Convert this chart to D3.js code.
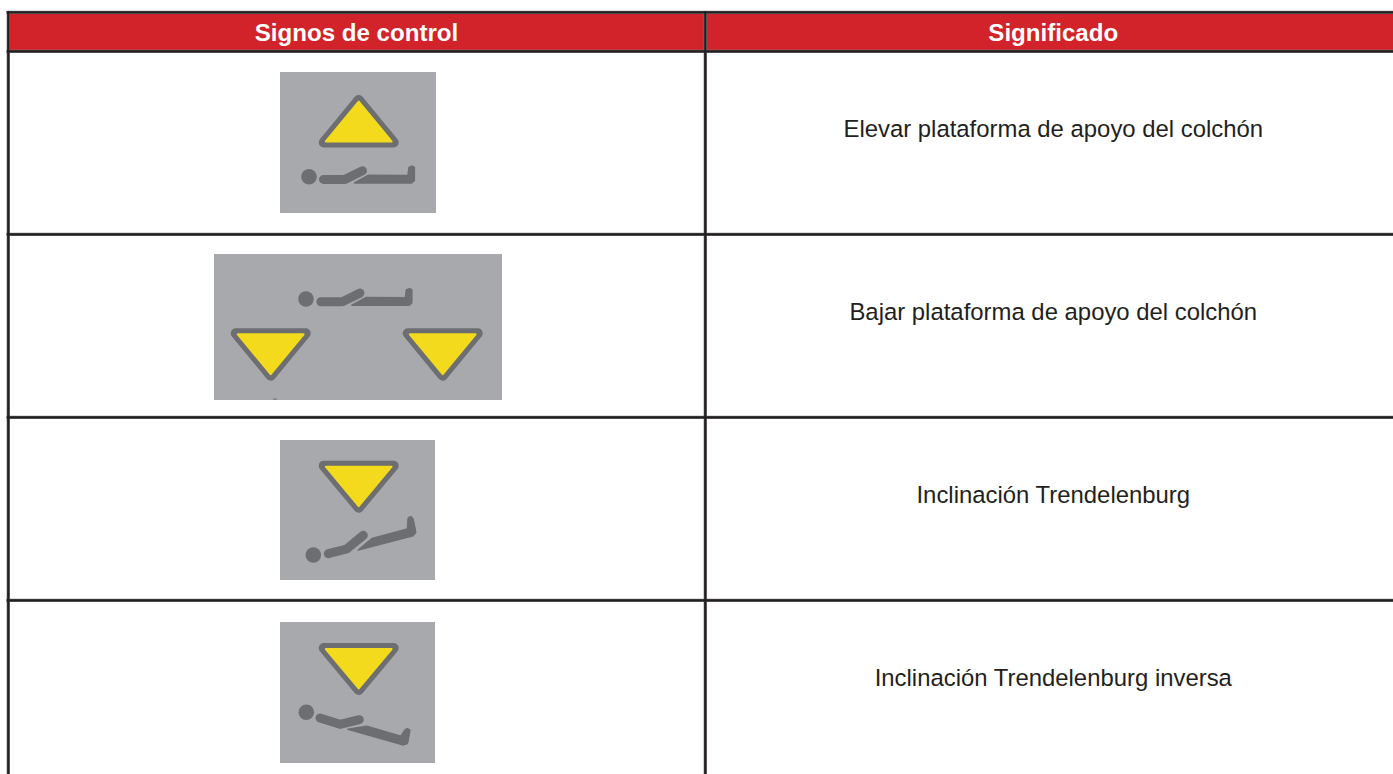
<!DOCTYPE html>
<html lang="es">
<head>
<meta charset="utf-8">
<title>Signos de control</title>
<script src="https://cdnjs.cloudflare.com/ajax/libs/d3/7.8.5/d3.min.js"></script>
<style>
html,body{margin:0;padding:0;background:#fff;overflow:hidden}
svg{display:block}
text{font-family:"Liberation Sans",Arial,sans-serif}
</style>
</head>
<body>
<svg id="chart" width="1393" height="774"></svg>
<script>
const columnHeaders = ["Signos de control", "Significado"];
const rowMeanings = [
  "Elevar plataforma de apoyo del colchón",
  "Bajar plataforma de apoyo del colchón",
  "Inclinación Trendelenburg",
  "Inclinación Trendelenburg inversa"
];
const rowKeys = ["flatUp", "flatDown", "headDown", "headUp"];

const W = 1393, H = 774;
const RED = "#d2232a", INK = "#231f20", HALO = "#77787a", PANEL = "#a7a9ac", GREY = "#6d6e71", YELLOW = "#f4da1c";
const svg = d3.select("#chart");

const x = d3.scaleLinear().domain([0, 1]).range([8.3, 705.3]);
const rowEdges = [51.3, 234.3, 417.3, 600.3, 783.3];
const y = d3.scaleBand().domain(rowMeanings).range([rowEdges[0], rowEdges[4]]);

// red header
svg.append("rect").attr("x", x(0)).attr("y", 12.5).attr("width", W).attr("height", 38.5).attr("fill", RED);

// table rules: a soft grey halo under a dark core
const hRules = [12.3, ...rowEdges.slice(0, 4)];
[[HALO, 3.3], [INK, 2.2]].forEach(([colour, width]) => {
  const g = svg.append("g").attr("stroke", colour).attr("stroke-width", width);
  g.selectAll("line.h").data(hRules).join("line").attr("class", "h")
    .attr("x1", 6.7).attr("x2", W).attr("y1", d => d).attr("y2", d => d);
  g.selectAll("line.v").data([0, 1]).join("line").attr("class", "v")
    .attr("x1", d => x(d)).attr("x2", d => x(d)).attr("y1", 11).attr("y2", H);
});

// header text
const colCentre = [356.5, 1053.3];
svg.selectAll("text.head").data(columnHeaders).join("text").attr("class", "head")
  .attr("x", (d, i) => colCentre[i]).attr("y", 41)
  .attr("text-anchor", "middle").attr("font-size", 24.1).attr("font-weight", 700)
  .attr("fill", "#fff").text(d => d);

// meaning text
svg.selectAll("text.meaning").data(rowMeanings).join("text").attr("class", "meaning")
  .attr("x", colCentre[1]).attr("y", d => y(d) + 85.7)
  .attr("text-anchor", "middle").attr("font-size", 23.9).attr("fill", INK).text(d => d);

// pictogram pieces
const line = d3.line();
function triangle(g, cx, top, bottom, up) {
  const halfOuter = 40, r = 5, inset = 1;
  const apexY = up ? top + r : bottom - r;
  const baseY = up ? bottom - r : top + r;
  const half = halfOuter - r, h = bottom - top - 2 * r;
  const side = Math.hypot(half, h);
  const inr = (half * h) / (half + side);
  const cy = up ? baseY - inr : baseY + inr;
  const k = (inr - inset) / inr;
  const outer = [[cx, apexY], [cx - half, baseY], [cx + half, baseY]];
  const inner = outer.map(p => [cx + (p[0] - cx) * k, cy + (p[1] - cy) * k]);
  g.append("path").attr("d", line(outer) + "Z").attr("fill", GREY).attr("stroke", GREY)
    .attr("stroke-width", 2 * r).attr("stroke-linejoin", "round");
  g.append("path").attr("d", line(inner) + "Z").attr("fill", YELLOW).attr("stroke", YELLOW)
    .attr("stroke-width", 2).attr("stroke-linejoin", "round");
}
function figure(g, f) {
  g.append("circle").attr("cx", f.head[0]).attr("cy", f.head[1]).attr("r", 7.8).attr("fill", GREY);
  g.append("path").attr("d", line(f.torso)).attr("fill", "none").attr("stroke", GREY)
    .attr("stroke-width", 9).attr("stroke-linecap", "round").attr("stroke-linejoin", "round");
  g.append("path").attr("d", line(f.legs) + "Z").attr("fill", GREY).attr("stroke", GREY)
    .attr("stroke-width", 1.6).attr("stroke-linejoin", "round");
  g.append("path").attr("d", line(f.foot)).attr("fill", "none").attr("stroke", GREY)
    .attr("stroke-width", 5.8).attr("stroke-linecap", "round");
}
const shift = (pts, dx, dy) => pts.map(p => [p[0] + dx, p[1] + dy]);

const flat = {
  head: [309, 176.7],
  torso: [[323.5, 179.4], [345, 179.4], [362.5, 170.8]],
  legs: [[354.5, 183], [368.5, 175.3], [408, 175.6], [409, 167.5], [414.3, 167.5], [414.3, 180.5], [411.5, 183]],
  foot: [[411.9, 168.5], [411.9, 178]]
};
const icons = {
  flatUp: { panel: [280, 72, 156, 141], tris: [[358.7, 95, 147.5, true]], fig: flat },
  flatDown: {
    panel: [214, 254, 288, 146],
    tris: [[270.7, 328.3, 380.7, false], [442.7, 328.3, 380.7, false]],
    fig: {
      head: [306, 299],
      torso: shift(flat.torso, -2.6, 122.3),
      legs: shift(flat.legs, -2.6, 122.3),
      foot: shift(flat.foot, -2.6, 122.3)
    }
  },
  headDown: {
    panel: [280, 440, 155, 140],
    tris: [[358.7, 460.7, 512.7, false]],
    fig: {
      head: [313.3, 555],
      torso: [[328.3, 553.7], [346.7, 549], [363.3, 535.3]],
      legs: [[358.3, 550], [372, 538.5], [407.5, 529], [408, 520], [413, 519], [415.7, 532.5], [413, 535.8]],
      foot: [[410.3, 519], [413, 531]]
    }
  },
  headUp: {
    panel: [280, 622, 155, 141],
    tris: [[358.7, 643, 695, false]],
    fig: {
      head: [306.3, 712.3],
      torso: [[320, 718], [340, 724.3], [359.3, 719.7]],
      legs: [[348, 729.3], [366.7, 726.3], [401, 736.3], [405, 730], [409.5, 730], [407.7, 741.5], [403.5, 745]],
      foot: [[407.5, 731], [405.5, 742]]
    }
  }
};

const icon = svg.selectAll("g.icon").data(rowKeys).join("g").attr("class", "icon");
icon.each(function (k) {
  const g = d3.select(this), ic = icons[k], p = ic.panel;
  g.append("rect").attr("x", p[0]).attr("y", p[1]).attr("width", p[2]).attr("height", p[3]).attr("fill", PANEL);
  ic.tris.forEach(t => triangle(g, ...t));
  figure(g, ic.fig);
});
// small print speck at the foot of the second panel
svg.append("rect").attr("x", 273).attr("y", 398.6).attr("width", 4).attr("height", 1).attr("fill", GREY);
</script>
</body>
</html>
